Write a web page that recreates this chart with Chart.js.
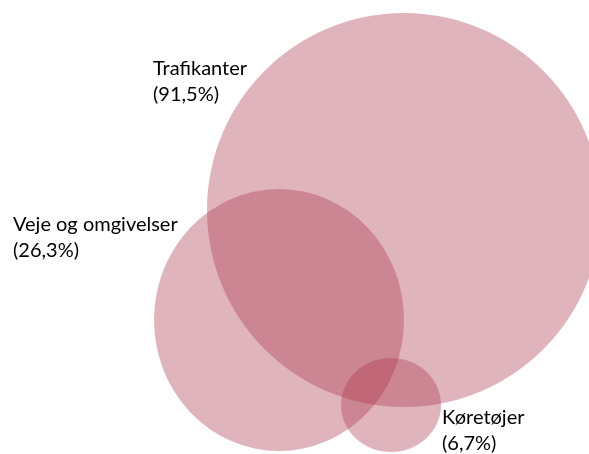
<!DOCTYPE html>
<html lang="da">
<head>
    <meta charset="UTF-8">
    <title>Venn</title>
    <script src="https://cdn.jsdelivr.net/npm/chart.js@4.4.1/dist/chart.umd.min.js"></script>
    <style>
        html, body { margin: 0; padding: 0; background: #fff; }
        #wrap { width: 589px; height: 454px; }
    </style>
</head>
<body>
    <div id="wrap"><canvas id="venn" width="589" height="454"></canvas></div>
    <script>
        // Venn sets and their shares
        const labels = ['Trafikanter', 'Veje og omgivelser', 'Køretøjer'];
        const shares = ['91,5%', '26,3%', '6,7%'];
        // ellipse geometry in chart units
        const centerX = [404, 279, 391];
        const centerY = [210, 320, 405];
        const radiusX = [197, 125, 50];
        const radiusY = [197, 131, 47];
        // label anchors (left edge, first line middle)
        const labelX = [153, 13, 442];
        const labelY = [69, 225, 418];

        const fill = 'rgba(170, 52, 74, 0.37)';

        const ellipsePlugin = {
            id: 'ellipses',
            beforeDatasetsDraw(chart) {
                const ctx = chart.ctx;
                const xs = chart.scales.x, ys = chart.scales.y;
                ctx.save();
                for (let i = 0; i < labels.length; i++) {
                    const cx = xs.getPixelForValue(centerX[i]);
                    const cy = ys.getPixelForValue(centerY[i]);
                    const rx = Math.abs(xs.getPixelForValue(centerX[i] + radiusX[i]) - cx);
                    const ry = Math.abs(ys.getPixelForValue(centerY[i] + radiusY[i]) - cy);
                    ctx.beginPath();
                    ctx.ellipse(cx, cy, rx, ry, 0, 0, Math.PI * 2);
                    ctx.fillStyle = fill;
                    ctx.fill();
                }
                // labels
                ctx.fillStyle = '#000';
                ctx.font = '20px Lato';
                ctx.textAlign = 'left';
                ctx.textBaseline = 'middle';
                for (let i = 0; i < labels.length; i++) {
                    const lx = xs.getPixelForValue(labelX[i]);
                    const ly = ys.getPixelForValue(labelY[i]);
                    ctx.fillText(labels[i], lx, ly);
                    ctx.fillText('(' + shares[i] + ')', lx, ly + 26);
                }
                ctx.restore();
            }
        };

        new Chart(document.getElementById('venn'), {
            type: 'scatter',
            data: {
                datasets: [{
                    data: labels.map((l, i) => ({ x: centerX[i], y: centerY[i] })),
                    pointRadius: 0,
                    pointHoverRadius: 0
                }]
            },
            options: {
                responsive: false,
                animation: false,
                layout: { padding: 0 },
                scales: {
                    x: { display: false, min: 0, max: 589 },
                    y: { display: false, min: 0, max: 454, reverse: true }
                },
                plugins: {
                    legend: { display: false },
                    tooltip: { enabled: false }
                }
            },
            plugins: [ellipsePlugin]
        });
    </script>
</body>
</html>
